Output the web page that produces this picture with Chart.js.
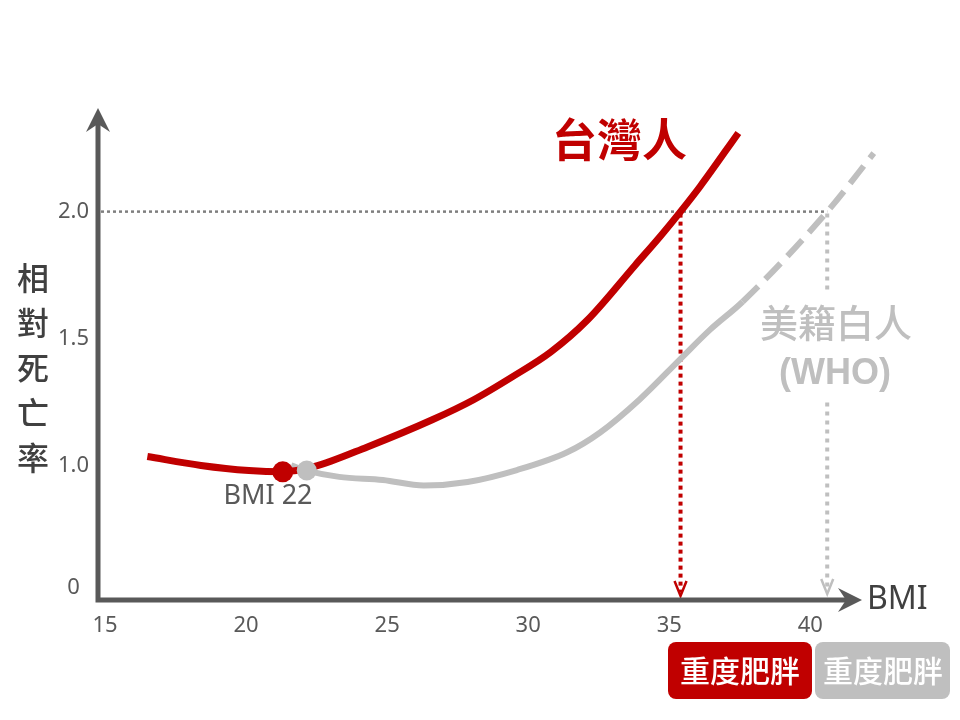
<!DOCTYPE html>
<html lang="zh-Hant">
<head>
    <meta charset="UTF-8">
    <title>BMI 與相對死亡率</title>
    <style>
        body {
            margin: 0;
            background: #ffffff;
        }
        #wrap {
            width: 960px;
            height: 720px;
        }
    </style>
</head>
<body>
    <div id="wrap">
        <canvas id="bmiChart" width="960" height="720"></canvas>
    </div>

    <script src="https://cdn.jsdelivr.net/npm/chart.js"></script>
    <script>
        // data
        const taiwanBmi  = [16.5, 18.4, 20.1, 21.3, 22.4, 24.3, 26.6, 28.05, 29.45, 30.8, 32.1, 33.8, 34.7, 35.4, 36.1, 37.45];
        const taiwanRisk = [1.035, 1.0, 0.98, 0.975, 0.995, 1.073, 1.18, 1.258, 1.35, 1.447, 1.573, 1.79, 1.905, 2.0, 2.1, 2.31];

        const whoBmi  = [21.6, 22.15, 23.3, 24.85, 26.3, 27.85, 29.6, 31.4, 32.55, 33.95, 35.4, 36.45, 37.6, 40.6, 42.25];
        const whoRisk = [1.0, 0.98, 0.955, 0.943, 0.921, 0.935, 0.982, 1.053, 1.13, 1.26, 1.42, 1.535, 1.645, 2.0, 2.23];
        const whoDashFrom = 37.6;   // WHO curve is extrapolated (dashed) past this BMI

        const taiwanDot = { x: 21.3, y: 0.975 };
        const whoDot = { x: 22.15, y: 0.98 };

        const riskLevel = 2.0;
        const obeseTaiwan = 35.4;
        const obeseWho = 40.6;

        const xTicks = [15, 20, 25, 30, 35, 40];
        const yTicks = [0.52, 1.0, 1.5, 2.0];
        const yTickLabels = ['0', '1.0', '1.5', '2.0'];

        const RED = '#c00000';
        const GREY = '#bfbfbf';
        const AXIS = '#595959';
        const CJK = '"Noto Sans CJK TC", "Noto Sans", sans-serif';
        const LATIN = '"Noto Sans", "Noto Sans CJK TC", sans-serif';

        function pts(xs, ys) {
            return xs.map((x, i) => ({ x: x, y: ys[i] }));
        }

        // stealth style arrow head, tip at (x, y), pointing along (dx, dy)
        function arrowHead(ctx, x, y, dx, dy, len, half, notch) {
            const px = -dy, py = dx;
            ctx.beginPath();
            ctx.moveTo(x, y);
            ctx.lineTo(x - dx * len + px * half, y - dy * len + py * half);
            ctx.lineTo(x - dx * (len - notch), y - dy * (len - notch));
            ctx.lineTo(x - dx * len - px * half, y - dy * len - py * half);
            ctx.closePath();
            ctx.fill();
        }

        function openArrow(ctx, x, y, color) {
            ctx.save();
            ctx.setLineDash([]);
            ctx.strokeStyle = color;
            ctx.lineWidth = 2.5;
            ctx.beginPath();
            ctx.moveTo(x - 6, y - 15);
            ctx.lineTo(x, y);
            ctx.lineTo(x + 6, y - 15);
            ctx.stroke();
            ctx.restore();
        }

        const decorations = {
            id: 'decorations',
            beforeDatasetsDraw(chart) {
                const ctx = chart.ctx;
                const xs = chart.scales.x, ys = chart.scales.y;
                const area = chart.chartArea;
                const yLevel = ys.getPixelForValue(riskLevel);
                const xRed = xs.getPixelForValue(obeseTaiwan);
                const xGrey = xs.getPixelForValue(obeseWho);
                ctx.save();

                // dotted guide at relative risk 2.0
                ctx.setLineDash([3, 3]);
                ctx.lineWidth = 2.5;
                ctx.strokeStyle = '#7f7f7f';
                ctx.beginPath();
                ctx.moveTo(area.left + 3, yLevel);
                ctx.lineTo(xGrey, yLevel);
                ctx.stroke();

                // dotted drops to the x axis
                ctx.setLineDash([4, 4]);
                ctx.lineWidth = 4;
                ctx.strokeStyle = RED;
                ctx.beginPath();
                ctx.moveTo(xRed, yLevel + 2);
                ctx.lineTo(xRed, area.bottom - 8);
                ctx.stroke();
                openArrow(ctx, xRed, area.bottom - 4, RED);

                ctx.strokeStyle = GREY;
                ctx.setLineDash([4, 5]);
                ctx.beginPath();
                ctx.moveTo(xGrey, yLevel + 2);
                ctx.lineTo(xGrey, area.bottom - 8);
                ctx.stroke();
                openArrow(ctx, xGrey, area.bottom - 6, GREY);

                // label box hides the grey drop line
                ctx.fillStyle = '#ffffff';
                ctx.fillRect(xGrey - 12, 292, 24, 110);

                // axes with arrow heads
                ctx.setLineDash([]);
                ctx.strokeStyle = AXIS;
                ctx.fillStyle = AXIS;
                ctx.lineWidth = 5;
                ctx.beginPath();
                ctx.moveTo(area.left, area.bottom + 2.5);
                ctx.lineTo(area.left, 124);
                ctx.moveTo(area.left - 2.5, area.bottom);
                ctx.lineTo(846, area.bottom);
                ctx.stroke();
                arrowHead(ctx, area.left, 108, 0, -1, 24, 12, 8);
                arrowHead(ctx, 862, area.bottom, 1, 0, 24, 12, 8);
                ctx.restore();
            },
            afterDatasetsDraw(chart) {
                const ctx = chart.ctx;
                ctx.save();
                ctx.textBaseline = 'middle';

                // series names
                ctx.fillStyle = RED;
                ctx.textAlign = 'left';
                ctx.font = 'bold 45px ' + CJK;
                ctx.fillText('台灣人', 552, 140);

                ctx.fillStyle = GREY;
                ctx.textAlign = 'center';
                ctx.font = '500 38px ' + CJK;
                ctx.fillText('美籍白人', 836, 323);
                ctx.font = 'bold 36px "Liberation Sans", Arial, sans-serif';
                ctx.fillText('(WHO)', 835, 374);

                // optimum marker label
                ctx.fillStyle = AXIS;
                ctx.font = '27px ' + LATIN;
                ctx.fillText('BMI 22', 268, 496);

                // axis titles
                ctx.fillStyle = '#404040';
                ctx.textAlign = 'left';
                ctx.font = '32px ' + LATIN;
                ctx.fillText('BMI', 867, 600);

                ctx.textAlign = 'center';
                ctx.font = '500 32px ' + CJK;
                const yTitle = '相對死亡率';
                for (let i = 0; i < yTitle.length; i++) {
                    ctx.fillText(yTitle[i], 33, 278 + i * 45);
                }

                // badges under the axis
                ctx.fillStyle = RED;
                ctx.beginPath();
                ctx.roundRect(668, 642, 144, 57, 8);
                ctx.fill();
                ctx.fillStyle = GREY;
                ctx.beginPath();
                ctx.roundRect(815, 642, 135, 57, 8);
                ctx.fill();
                ctx.fillStyle = '#ffffff';
                ctx.font = '500 30px ' + CJK;
                ctx.fillText('重度肥胖', 740, 671);
                ctx.fillText('重度肥胖', 883, 671);
                ctx.restore();
            }
        };

        const ctx = document.getElementById('bmiChart').getContext('2d');
        const bmiChart = new Chart(ctx, {
            type: 'line',
            data: {
                datasets: [
                    {
                        label: '台灣人 BMI 22',
                        type: 'scatter',
                        data: [taiwanDot],
                        backgroundColor: RED,
                        borderWidth: 0,
                        pointRadius: 10.5,
                        order: 0
                    },
                    {
                        label: '美籍白人 BMI 22',
                        type: 'scatter',
                        data: [whoDot],
                        backgroundColor: GREY,
                        borderWidth: 0,
                        pointRadius: 10,
                        order: 1
                    },
                    {
                        label: '台灣人',
                        data: pts(taiwanBmi, taiwanRisk),
                        borderColor: RED,
                        borderWidth: 7,
                        borderCapStyle: 'butt',
                        cubicInterpolationMode: 'monotone',
                        pointRadius: 0,
                        fill: false,
                        order: 2
                    },
                    {
                        label: '美籍白人 (WHO)',
                        data: pts(whoBmi, whoRisk),
                        borderColor: GREY,
                        borderWidth: 6,
                        borderCapStyle: 'butt',
                        cubicInterpolationMode: 'monotone',
                        pointRadius: 0,
                        fill: false,
                        segment: {
                            borderDash: c => c.p0.parsed.x >= whoDashFrom ? [22, 10] : undefined
                        },
                        order: 3
                    }
                ]
            },
            options: {
                responsive: false,
                animation: false,
                layout: {
                    padding: { top: 105, right: 82, left: 0, bottom: 0 }
                },
                plugins: {
                    legend: { display: false },
                    tooltip: { enabled: false }
                },
                scales: {
                    x: {
                        type: 'linear',
                        min: 14.75,
                        max: 42.4,
                        grid: { display: false, drawTicks: false },
                        border: { display: false },
                        afterFit: s => { s.height = 120; },
                        afterBuildTicks: s => { s.ticks = xTicks.map(v => ({ value: v })); },
                        ticks: {
                            padding: 13,
                            color: AXIS,
                            font: { family: LATIN, size: 22 },
                            maxRotation: 0,
                            callback: v => String(v)
                        }
                    },
                    y: {
                        type: 'linear',
                        min: 0.47,
                        max: 2.42,
                        grid: { display: false, drawTicks: false },
                        border: { display: false },
                        afterFit: s => { s.width = 98; },
                        afterBuildTicks: s => { s.ticks = yTicks.map(v => ({ value: v })); },
                        ticks: {
                            padding: 9,
                            crossAlign: 'center',
                            color: AXIS,
                            font: { family: LATIN, size: 22 },
                            callback: v => yTickLabels[yTicks.indexOf(v)]
                        }
                    }
                }
            },
            plugins: [decorations]
        });
    </script>
</body>
</html>
